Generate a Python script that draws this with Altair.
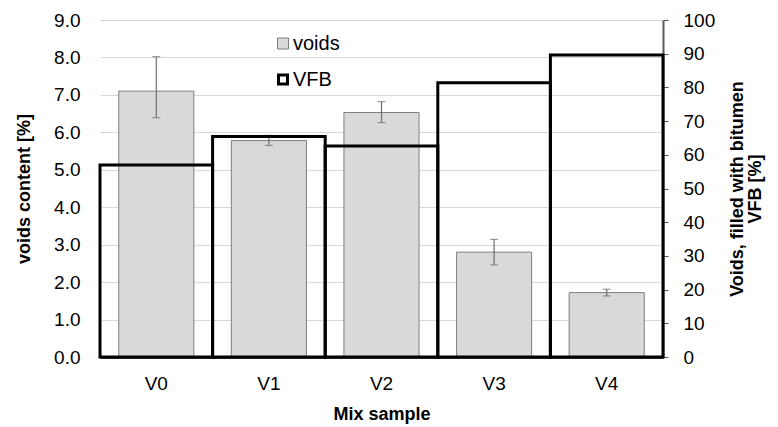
import altair as alt
import pandas as pd

categories = ["V0", "V1", "V2", "V3", "V4"]
voids = [7.10, 5.78, 6.53, 2.80, 1.72]
voids_lo = [6.39, 5.65, 6.26, 2.46, 1.63]
voids_hi = [8.02, 5.92, 6.82, 3.14, 1.81]
vfb = [57.0, 65.4, 62.6, 81.4, 89.6]
left_ticks = [0, 1, 2, 3, 4, 5, 6, 7, 8, 9]
right_ticks = [0, 10, 20, 30, 40, 50, 60, 70, 80, 90, 100]
legend_labels = ["voids", "VFB"]

df = pd.DataFrame({"cat": categories, "voids": voids, "lo": voids_lo, "hi": voids_hi, "vfb": vfb})
leg = pd.DataFrame({"label": legend_labels})

FONT = "Liberation Sans"
FS = 19
TFS = 18
LFS = 20

xaxis = alt.Axis(labelAngle=0, ticks=False, domain=True, domainColor="black", domainWidth=2.5,
                 labelPadding=17, titlePadding=12, labelFontSize=FS, titleFontSize=TFS,
                 titleFontWeight="bold", labelColor="black", titleColor="black")
xscale = alt.Scale(paddingInner=0, paddingOuter=0)

def xenc():
    return alt.X("cat:N", title="Mix sample", sort=categories, scale=xscale, axis=xaxis)

yaxis = alt.Axis(values=left_ticks, format=".1f", domain=False, ticks=False, labelPadding=20,
                 labelOverlap=False, labelFlush=False,
                 grid=True, gridColor="#d9d9d9", gridWidth=1, labelFontSize=FS, titleFontSize=TFS,
                 titleFontWeight="bold", titlePadding=20, labelColor="black", titleColor="black")
yscale = alt.Scale(domain=[0, 9], nice=False)

def yenc(field):
    return alt.Y(field, title="voids content [%]", scale=yscale, axis=yaxis)

base = alt.Chart(df)
bars = base.mark_bar(width=alt.RelativeBandSize(0.667), fill="#d9d9d9", stroke="#7f7f7f", strokeWidth=1).encode(
    x=xenc(), y=yenc("voids:Q"))
rule = base.mark_rule(color="#6f6f6f", strokeWidth=1.2).encode(x=xenc(), y=yenc("lo:Q"), y2="hi:Q")
cap_lo = base.mark_tick(color="#6f6f6f", size=8, thickness=1.2).encode(x=xenc(), y=yenc("lo:Q"))
cap_hi = base.mark_tick(color="#6f6f6f", size=8, thickness=1.2).encode(x=xenc(), y=yenc("hi:Q"))

leg_sq1 = alt.Chart(leg).transform_filter(alt.datum.label == "voids").mark_square(
    size=121, fill="#d9d9d9", stroke="#7f7f7f", strokeWidth=1, opacity=1).encode(x=alt.value(183), y=alt.value(23.5))
leg_tx1 = alt.Chart(leg).transform_filter(alt.datum.label == "voids").mark_text(
    align="left", baseline="middle", font=FONT, fontSize=LFS, color="black").encode(
    x=alt.value(193), y=alt.value(24), text="label:N")
leg_sq2 = alt.Chart(leg).transform_filter(alt.datum.label == "VFB").mark_square(
    size=81, fill="white", stroke="black", strokeWidth=3, opacity=1).encode(x=alt.value(183), y=alt.value(59.5))
leg_tx2 = alt.Chart(leg).transform_filter(alt.datum.label == "VFB").mark_text(
    align="left", baseline="middle", font=FONT, fontSize=LFS, color="black").encode(
    x=alt.value(193), y=alt.value(60), text="label:N")

left = alt.layer(bars, rule, cap_lo, cap_hi, leg_sq1, leg_tx1, leg_sq2, leg_tx2)

vfb_bars = base.mark_bar(fill="transparent", stroke="black", strokeWidth=3).encode(
    x=xenc(),
    y=alt.Y("vfb:Q", title=["Voids, filled with bitumen", "VFB [%]"],
            scale=alt.Scale(domain=[0, 100], nice=False),
            axis=alt.Axis(orient="right", values=right_ticks, format="d", grid=False,
                          labelOverlap=False, labelFlush=False,
                          domainColor="#595959", domainWidth=2, tickColor="#595959", tickSize=5,
                          labelPadding=15, labelFontSize=FS, titleFontSize=TFS, titleFontWeight="bold",
                          titleAngle=270, titleLineHeight=18, titlePadding=14,
                          labelColor="black", titleColor="black")))

chart = alt.layer(left, vfb_bars).resolve_scale(y="independent").properties(
    width=563, height=337,
    padding={"left": 92, "top": 12, "right": 106, "bottom": 68},
    autosize=alt.AutoSizeParams(type="none"),
).configure(font=FONT).configure_axis(
    labelFont=FONT, titleFont=FONT
).configure_view(strokeWidth=0)

chart.save("out.html", embed_options={"renderer": "svg", "actions": False})
